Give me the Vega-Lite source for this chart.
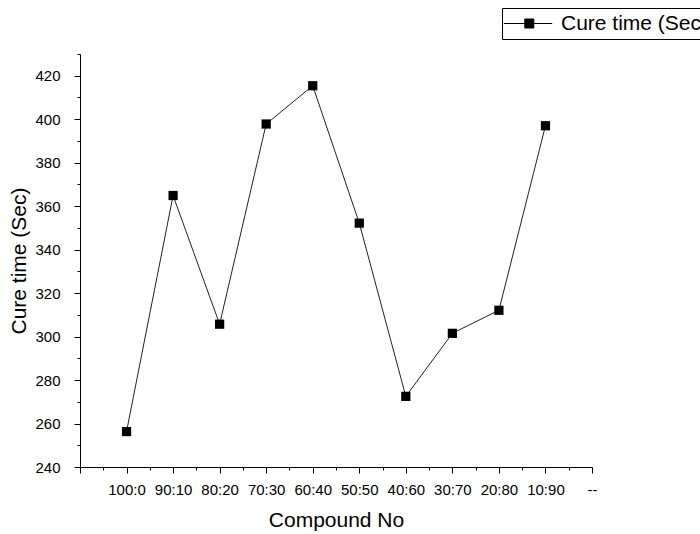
{
  "$schema": "https://vega.github.io/schema/vega-lite/v6.json",
  "width": 512,
  "height": 413,
  "autosize": {"type": "none"},
  "padding": {"left": 80, "top": 54, "right": 108, "bottom": 67},
  "background": "white",
  "config": {
    "view": {"stroke": null},
    "font": "Liberation Sans",
    "axis": {
      "domainColor": "black",
      "domainWidth": 1,
      "tickColor": "black",
      "tickWidth": 1,
      "labelColor": "black",
      "titleColor": "black",
      "labelFont": "Liberation Sans",
      "titleFont": "Liberation Sans",
      "labelFontSize": 15,
      "titleFontSize": 21,
      "titleFontWeight": "normal",
      "grid": false
    }
  },
  "data": {
    "values": [
      {"order": 1, "compound": "100:0", "cure": 256.3, "series": "Cure time (Sec)"},
      {"order": 2, "compound": "90:10", "cure": 364.9, "series": "Cure time (Sec)"},
      {"order": 3, "compound": "80:20", "cure": 305.7, "series": "Cure time (Sec)"},
      {"order": 4, "compound": "70:30", "cure": 397.8, "series": "Cure time (Sec)"},
      {"order": 5, "compound": "60:40", "cure": 415.4, "series": "Cure time (Sec)"},
      {"order": 6, "compound": "50:50", "cure": 352.2, "series": "Cure time (Sec)"},
      {"order": 7, "compound": "40:60", "cure": 272.5, "series": "Cure time (Sec)"},
      {"order": 8, "compound": "30:70", "cure": 301.5, "series": "Cure time (Sec)"},
      {"order": 9, "compound": "20:80", "cure": 312.1, "series": "Cure time (Sec)"},
      {"order": 10, "compound": "10:90", "cure": 397.0, "series": "Cure time (Sec)"}
    ]
  },
  "encoding": {
    "x": {
      "field": "order",
      "type": "quantitative",
      "scale": {"domain": [0, 11], "nice": false, "zero": false},
      "axis": {
        "title": "Compound No",
        "values": [0, 0.5, 1, 1.5, 2, 2.5, 3, 3.5, 4, 4.5, 5, 5.5, 6, 6.5, 7, 7.5, 8, 8.5, 9, 9.5, 10, 10.5, 11],
        "labelExpr": "datum.value % 1 != 0 ? '' : ['', '100:0', '90:10', '80:20', '70:30', '60:40', '50:50', '40:60', '30:70', '20:80', '10:90', '--'][datum.value]",
        "tickSize": {"condition": {"test": "datum.value % 1 != 0", "value": 3}, "value": 6},
        "labelPadding": 9,
        "titlePadding": 12,
        "labelOverlap": false,
        "labelFlush": false
      }
    },
    "y": {
      "field": "cure",
      "type": "quantitative",
      "scale": {"domain": [240, 430], "nice": false, "zero": false},
      "axis": {
        "title": "Cure time (Sec)",
        "values": [240, 250, 260, 270, 280, 290, 300, 310, 320, 330, 340, 350, 360, 370, 380, 390, 400, 410, 420, 430],
        "labelExpr": "datum.value % 20 != 0 ? '' : datum.label",
        "tickSize": {"condition": {"test": "datum.value % 20 != 0", "value": 3}, "value": 6},
        "labelPadding": 14,
        "titlePadding": 5,
        "labelOverlap": false,
        "labelFlush": false
      }
    }
  },
  "layer": [
    {
      "mark": {"type": "line", "color": "#222222", "strokeWidth": 1}
    },
    {
      "mark": {"type": "point", "shape": "square", "filled": true, "size": 85, "opacity": 1},
      "encoding": {
        "color": {
          "field": "series",
          "type": "nominal",
          "scale": {"range": ["black"]},
          "legend": {
            "orient": "none",
            "legendX": 422,
            "legendY": -46,
            "title": null,
            "strokeColor": "black",
            "fillColor": "white",
            "padding": 5,
            "symbolType": "M-1.37,0H3.47M0.73,-0.45H1.63V0.45H0.73Z",
            "symbolSize": 400,
            "symbolStrokeWidth": 1,
            "symbolFillColor": "black",
            "symbolStrokeColor": "black",
            "labelFontSize": 21,
            "labelFont": "Liberation Sans",
            "labelColor": "black",
            "labelOffset": 33,
            "labelLimit": 400,
            "encode": {
              "symbols": {"update": {"stroke": {"value": "black"}, "strokeWidth": {"value": 1}, "fill": {"value": "black"}, "opacity": {"value": 1}}}
            }
          }
        }
      }
    }
  ]
}
